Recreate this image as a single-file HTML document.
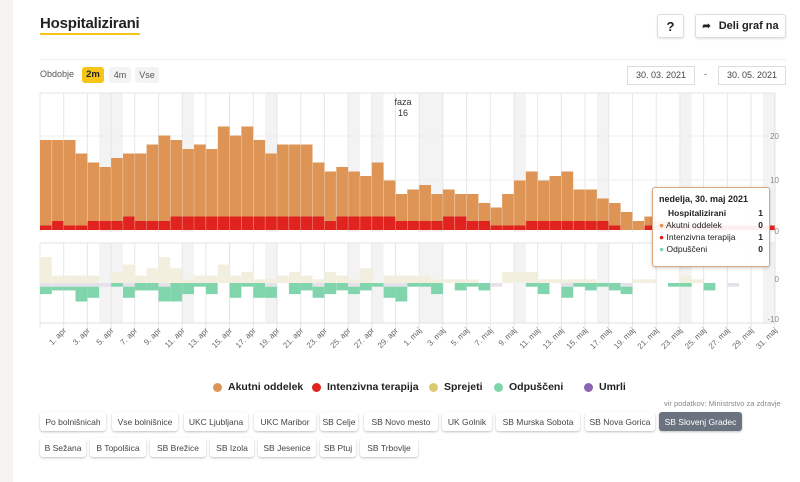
<!DOCTYPE html>
<html><head><meta charset="utf-8"><style>
*{margin:0;padding:0;box-sizing:border-box}
body{width:800px;height:482px;background:#f4f3ef;font-family:"Liberation Sans",sans-serif;position:relative;overflow:hidden;color:#222}
.card{position:absolute;left:13px;top:0;width:787px;height:482px;background:#fff}
.abs{position:absolute}
h1{position:absolute;left:40px;top:15px;font-size:15px;font-weight:bold;letter-spacing:-0.2px;border-bottom:2px solid #f5c518;line-height:18px}
.btn{position:absolute;border:1px solid #ddd;border-radius:3px;background:#fff;font-size:11px;font-weight:bold;display:flex;align-items:center;justify-content:center;box-shadow:0 1px 2px rgba(0,0,0,.12)}
.hb{position:absolute;height:19px;border-radius:3px;background:#fff;box-shadow:0 1px 2px rgba(0,0,0,.25);font-size:8.5px;color:#444;display:flex;align-items:center;justify-content:center;white-space:nowrap}
.lg{position:absolute;top:381px;font-size:10.5px;font-weight:bold;display:flex;align-items:center;white-space:nowrap}
.lg i{display:inline-block;width:9px;height:9px;border-radius:50%;margin-right:6px}
</style></head><body>
<div class="card"></div>
<h1>Hospitalizirani</h1>
<div class="btn" style="left:657px;top:14px;width:27px;height:24px;font-size:13px">?</div>
<div class="btn" style="left:695px;top:14px;width:91px;height:24px"><span style="font-size:10px;margin-right:8px">➦</span>Deli graf na</div>
<div class="abs" style="left:40px;top:59px;width:746px;height:1px;background:#eee"></div>
<div class="abs" style="left:40px;top:69px;font-size:9px;color:#555">Obdobje</div>
<div class="abs" style="left:82px;top:67px;width:22px;height:16px;background:#f5c518;border-radius:3px;font-size:9.5px;font-weight:bold;text-align:center;line-height:16px">2m</div>
<div class="abs" style="left:109px;top:67px;width:22px;height:16px;background:#f3f3f3;border-radius:3px;font-size:9px;text-align:center;line-height:16px;color:#555">4m</div>
<div class="abs" style="left:135px;top:67px;width:24px;height:16px;background:#f3f3f3;border-radius:3px;font-size:9px;text-align:center;line-height:16px;color:#555">Vse</div>
<div class="abs" style="left:627px;top:66px;width:68px;height:19px;border:1px solid #ddd;font-size:9px;text-align:center;line-height:17px;color:#444">30. 03. 2021</div>
<div class="abs" style="left:704px;top:69px;font-size:9px;color:#555">-</div>
<div class="abs" style="left:718px;top:66px;width:68px;height:19px;border:1px solid #ddd;font-size:9px;text-align:center;line-height:17px;color:#444">30. 05. 2021</div>
<svg id="ch" class="abs" style="left:0;top:0" width="800" height="370"></svg>
<div class="abs" style="left:652px;top:187px;width:118px;height:80px;background:rgba(255,255,255,.93);border:1px solid #d9a77f;border-radius:3px;box-shadow:0 1px 3px rgba(0,0,0,.2);font-size:8.5px;padding:6px 6px">
<div style="font-weight:bold;font-size:9px">nedelja, 30. maj 2021</div>
<div style="display:flex;justify-content:space-between;margin-top:4px;font-weight:bold;padding-left:9px"><span>Hospitalizirani</span><span>1</span></div>
<div style="display:flex;justify-content:space-between;margin-top:2px"><span><span style="color:#dd9455">●</span> Akutni oddelek</span><b>0</b></div>
<div style="display:flex;justify-content:space-between;margin-top:2px"><span><span style="color:#e0231e">●</span> Intenzivna terapija</span><b>1</b></div>
<div style="display:flex;justify-content:space-between;margin-top:2px"><span><span style="color:#7fd4ac">●</span> Odpuščeni</span><b>0</b></div>
</div>
<div class="lg" style="left:213px"><i style="background:#dd9455"></i>Akutni oddelek</div>
<div class="lg" style="left:312px"><i style="background:#e0231e"></i>Intenzivna terapija</div>
<div class="lg" style="left:429px"><i style="background:#dcc870"></i>Sprejeti</div>
<div class="lg" style="left:494px"><i style="background:#7fd4ac"></i>Odpuščeni</div>
<div class="lg" style="left:584px"><i style="background:#8a64b0"></i>Umrli</div>
<div class="abs" style="left:664px;top:399px;font-size:7.5px;color:#888">vir podatkov: Ministrstvo za zdravje</div>
<div class="hb" style="left:40px;top:412px;width:66px">Po bolnišnicah</div>
<div class="hb" style="left:112px;top:412px;width:66px">Vse bolnišnice</div>
<div class="hb" style="left:184px;top:412px;width:64px">UKC Ljubljana</div>
<div class="hb" style="left:254px;top:412px;width:62px">UKC Maribor</div>
<div class="hb" style="left:320px;top:412px;width:38px">SB Celje</div>
<div class="hb" style="left:364px;top:412px;width:74px">SB Novo mesto</div>
<div class="hb" style="left:442px;top:412px;width:50px">UK Golnik</div>
<div class="hb" style="left:496px;top:412px;width:84px">SB Murska Sobota</div>
<div class="hb" style="left:585px;top:412px;width:70px">SB Nova Gorica</div>
<div class="hb" style="left:659px;top:412px;width:83px;background:#6b7380;color:#fff">SB Slovenj Gradec</div>
<div class="hb" style="left:40px;top:438px;width:46px">B Sežana</div>
<div class="hb" style="left:90px;top:438px;width:56px">B Topolšica</div>
<div class="hb" style="left:150px;top:438px;width:56px">SB Brežice</div>
<div class="hb" style="left:210px;top:438px;width:44px">SB Izola</div>
<div class="hb" style="left:258px;top:438px;width:58px">SB Jesenice</div>
<div class="hb" style="left:320px;top:438px;width:36px">SB Ptuj</div>
<div class="hb" style="left:360px;top:438px;width:58px">SB Trbovlje</div>
<script>
var s='',x0=40,w=11.85,z1=230,k1=4.5,z2=283,k2=3.7;
var tot=[20,20,20,17,15,14,16,17,17,19,21,20,18,19,18,23,21,23,20,17,19,19,19,15,13,14,13,12,15,11,8,9,10,8,9,8,8,6,5,8,11,13,11,12,13,9,9,7,6,4,2,3,2,1,1,1,1,1,1,1,1,1];
var icu=[1,2,1,1,2,2,2,3,2,2,2,3,3,3,3,3,3,3,3,3,3,3,3,3,2,3,3,3,3,3,2,2,2,2,3,3,2,2,1,1,1,2,2,2,2,2,2,2,1,0,0,1,1,1,1,1,1,1,1,1,1,1];
var spr=[7,2,2,2,2,0,3,5,2,4,7,4,1,2,2,5,2,3,1,1,2,3,2,1,3,2,1,4,0,2,2,2,2,1,1,1,1,0,0,3,3,3,1,1,1,1,1,0,0,0,1,1,0,0,2,1,0,0,0,0,0,0];
var grn=[2,1,1,4,3,0,1,3,2,2,4,5,3,1,3,0,4,1,4,3,0,3,2,3,3,2,2,2,1,3,4,1,1,3,0,2,1,2,0,0,0,1,3,0,3,1,2,1,2,2,0,0,0,1,1,0,2,0,0,0,0,0];
var lav=[0,1,2,3,4,5,7,10,19,23,26,29,30,38,44,49,58];
var sh=[5,6,12,19,26,28,32,33,40,47,54,61];
function R(x,y,ww,h,c){s+='<rect x="'+x.toFixed(1)+'" y="'+y.toFixed(1)+'" width="'+ww.toFixed(1)+'" height="'+h.toFixed(1)+'" fill="'+c+'"/>';}
sh.forEach(function(i){R(x0+i*w,93,w,139,'#f3f3f3');R(x0+i*w,243,w,80,'#f3f3f3');});
for(var g=0;g<=31;g++){var gx=x0+g*2*w;s+='<line x1="'+gx+'" y1="93" x2="'+gx+'" y2="232" stroke="#e6e6e6"/><line x1="'+gx+'" y1="243" x2="'+gx+'" y2="328" stroke="#e6e6e6"/>';}
s+='<line x1="40" y1="93" x2="775" y2="93" stroke="#e6e6e6"/><line x1="40" y1="243" x2="775" y2="243" stroke="#e6e6e6"/><line x1="40" y1="323" x2="775" y2="323" stroke="#e0e0e0"/>';
s+='<line x1="40" y1="136" x2="775" y2="136" stroke="#eee"/><line x1="40" y1="180" x2="775" y2="180" stroke="#eee"/><line x1="775" y1="93" x2="775" y2="323" stroke="#e6e6e6"/>';
for(var i=0;i<62;i++){var x=x0+i*w;
 if(tot[i]>0)R(x,z1-tot[i]*k1,w,tot[i]*k1,'#dd9455');
 if(icu[i]>0)R(x,z1-icu[i]*k1,w,icu[i]*k1,'#e0231e');
 if(spr[i]>0)R(x,z2-spr[i]*k2,w,spr[i]*k2,'#f3efdf');
 var off=0; if(lav.indexOf(i)>=0){R(x,z2,w,k2,'#e4e1ea');off=k2;}
 if(grn[i]>0)R(x,z2+off,w,grn[i]*k2,'#80d5ad');
 if(i>0)s+='<line x1="'+x+'" y1="'+Math.max(z1-tot[i]*k1,z1-tot[i-1]*k1)+'" x2="'+x+'" y2="'+z1+'" stroke="rgba(255,255,255,.35)" stroke-width="0.7"/>';
}
s+='<text x="403" y="105" font-size="9" text-anchor="middle" fill="#333">faza</text><text x="403" y="116" font-size="9" text-anchor="middle" fill="#333">16</text>';
[['20',139],['10',183],['0',234],['0',282],['-10',322]].forEach(function(t){s+='<text x="779" y="'+t[1]+'" font-size="8" text-anchor="end" fill="#888">'+t[0]+'</text>';});
for(var g=1;g<=31;g++){var gx=x0+g*2*w-w*0;var lbl=g<=15?(2*g-1)+'. apr':(2*(g-16)+1)+'. maj';if(g==31)lbl='31. maj';s+='<text transform="translate('+(gx+3)+',331) rotate(-45)" font-size="8" text-anchor="end" fill="#666">'+lbl+'</text>';}
document.getElementById('ch').innerHTML=s;
</script>
</body></html>
